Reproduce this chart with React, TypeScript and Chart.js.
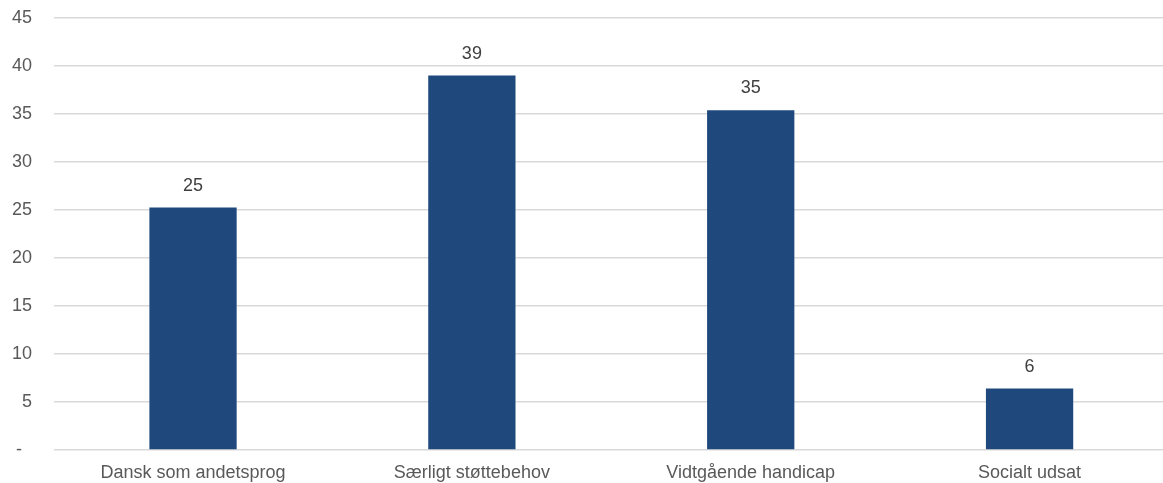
import React, { useEffect, useRef } from "react";
import { Chart, registerables } from "chart.js";

Chart.register(...registerables);

const categories = ["Dansk som andetsprog", "Særligt støttebehov", "Vidtgående handicap", "Socialt udsat"];
const values = [25.25, 39.0, 35.4, 6.4];
const yTicks = [0, 5, 10, 15, 20, 25, 30, 35, 40, 45];

const FONT = "'Liberation Sans', Arial, sans-serif";

const dataLabelPlugin = {
  id: "dataLabels",
  afterDatasetsDraw(chart: any) {
    const ctx = chart.ctx;
    const meta = chart.getDatasetMeta(0);
    ctx.save();
    ctx.font = `18px ${FONT}`;
    ctx.fillStyle = "#404040";
    ctx.textAlign = "center";
    ctx.textBaseline = "middle";
    meta.data.forEach((bar: any, i: number) => {
      ctx.fillText(String(Math.round(values[i])), bar.x, bar.y - 22);
    });
    ctx.restore();
  },
};

export default function App() {
  const ref = useRef<HTMLCanvasElement>(null);
  useEffect(() => {
    if (!ref.current) return;
    const chart = new Chart(ref.current, {
      type: "bar",
      data: {
        labels: categories,
        datasets: [
          {
            data: values,
            backgroundColor: "#1F497D",
            borderWidth: 0,
            barPercentage: 0.313,
            categoryPercentage: 1,
          },
        ],
      },
      options: {
        responsive: false,
        animation: false,
        layout: { padding: { top: 18, right: 0, bottom: 0, left: 0 } },
        plugins: { legend: { display: false }, tooltip: { enabled: false } },
        scales: {
          x: {
            grid: { display: false, drawTicks: false },
            border: { display: false },
            ticks: { color: "#595959", font: { family: FONT, size: 18 }, padding: 12, maxRotation: 0 },
            afterFit: (s: any) => {
              s.height = 33;
              s.paddingLeft = 0;
              s.paddingRight = 0;
            },
          },
          y: {
            min: 0,
            max: 45,
            afterBuildTicks: (s: any) => {
              s.ticks = yTicks.map((v) => ({ value: v }));
            },
            grid: { color: "#d9d9d9", lineWidth: 1.5, drawTicks: false },
            border: { display: false },
            ticks: {
              color: "#595959",
              font: { family: FONT, size: 18 },
              padding: 21.5,
              callback: (v: any) => (v === 0 ? "-  " : String(v)),
            },
            afterFit: (s: any) => {
              s.width = 53.6;
              s.paddingTop = 0;
              s.paddingBottom = 0;
            },
          },
        },
      },
      plugins: [dataLabelPlugin],
    });
    return () => chart.destroy();
  }, []);
  return (
    <div style={{ position: "fixed", left: 0, top: 0, width: 1163, height: 483, overflow: "hidden", background: "#fff" }}>
      <canvas ref={ref} width={1169} height={483} style={{ display: "block" }} />
    </div>
  );
}
